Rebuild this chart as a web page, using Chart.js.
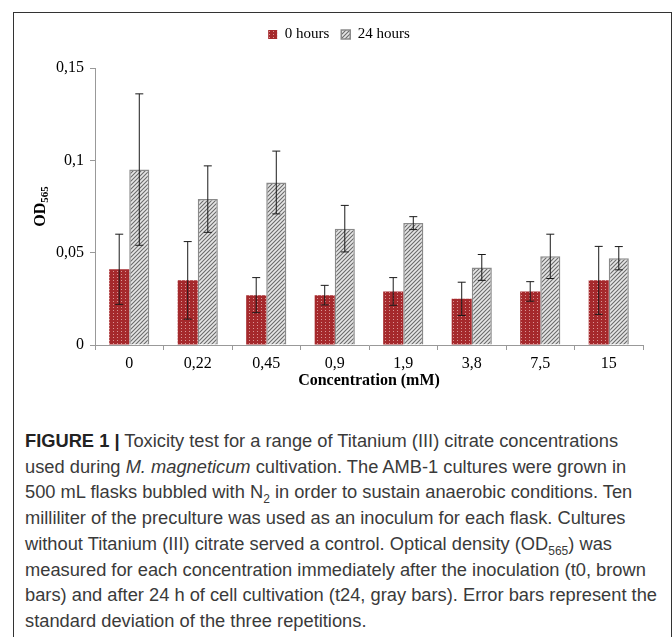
<!DOCTYPE html>
<html>
<head>
<meta charset="utf-8">
<script src="https://cdn.jsdelivr.net/npm/chart.js@4.4.0/dist/chart.umd.min.js"></script>
<style>
  body { margin: 0; background: #fff; }
  #frame { position: absolute; left: 13px; top: 12px; width: 659px; height: 640px;
           border: 1.5px solid #333; border-bottom: none; box-sizing: border-box; }
  #wrap { position: absolute; left: 0; top: 0; width: 672px; height: 400px; }
  #caption { position: absolute; left: 25px; top: 428px; color: #3a3a3a;
             font-family: "Liberation Sans", Arial, sans-serif;
             font-size: 18.3px; line-height: 25.7px; white-space: nowrap; }
  #caption b { color: #222; }
  #caption sub { font-size: 12px; line-height: 0; }
</style>
</head>
<body>
<div id="frame"></div>
<div id="wrap"><canvas id="chart" width="672" height="400"></canvas></div>
<div id="caption">
  <div><b>FIGURE 1 |</b> Toxicity test for a range of Titanium (III) citrate concentrations</div>
  <div>used during <i>M. magneticum</i> cultivation. The AMB-1 cultures were grown in</div>
  <div>500 mL flasks bubbled with N<sub>2</sub> in order to sustain anaerobic conditions. Ten</div>
  <div>milliliter of the preculture was used as an inoculum for each flask. Cultures</div>
  <div>without Titanium (III) citrate served a control. Optical density (OD<sub>565</sub>) was</div>
  <div>measured for each concentration immediately after the inoculation (t0, brown</div>
  <div>bars) and after 24 h of cell cultivation (t24, gray bars). Error bars represent the</div>
  <div>standard deviation of the three repetitions.</div>
</div>
<script>
// concentrations (mM)
const concentrations = ['0', '0,22', '0,45', '0,9', '1,9', '3,8', '7,5', '15'];
// OD565 means
const od0h  = [0.041, 0.035, 0.027, 0.027, 0.029, 0.025, 0.029, 0.035];
const od24h = [0.095, 0.079, 0.088, 0.063, 0.066, 0.042, 0.048, 0.047];
// standard deviations
const sd0h  = [0.019, 0.021, 0.0095, 0.0053, 0.0075, 0.009, 0.0053, 0.0184];
const sd24h = [0.041, 0.018, 0.017, 0.0126, 0.0035, 0.007, 0.012, 0.0063];
const yTicks = [0, 0.05, 0.1, 0.15];

const serif = "'Liberation Serif', 'Times New Roman', serif";

const dotPattern = () => {
    const c = document.createElement('canvas');
    c.width = 4; c.height = 3;
    const g = c.getContext('2d');
    g.fillStyle = '#a5292c';
    g.fillRect(0, 0, 4, 3);
    g.fillStyle = '#d99595';
    g.fillRect(1, 1, 1, 1);
    return g.createPattern(c, 'repeat');
}

const hatchPattern = () => {
    const c = document.createElement('canvas');
    c.width = 4; c.height = 4;
    const g = c.getContext('2d');
    g.fillStyle = '#e6e6e6';
    g.fillRect(0, 0, 4, 4);
    g.strokeStyle = '#6a6a6a';
    g.lineWidth = 1.1;
    g.beginPath();
    g.moveTo(-1, 5); g.lineTo(5, -1);
    g.moveTo(-1, 1); g.lineTo(1, -1);
    g.moveTo(3, 5); g.lineTo(5, 3);
    g.stroke();
    return g.createPattern(c, 'repeat');
}

// draws the SD whiskers on top of the bars
const errorBars = {
    id: 'errorBars',
    afterDatasetsDraw(chart) {
        const ctx = chart.ctx;
        const y = chart.scales.y;
        [sd0h, sd24h].forEach((sd, di) => {
            const meta = chart.getDatasetMeta(di);
            meta.data.forEach((bar, i) => {
                const v = chart.data.datasets[di].data[i];
                const top = y.getPixelForValue(v + sd[i]);
                const bot = y.getPixelForValue(v - sd[i]);
                ctx.save();
                ctx.strokeStyle = '#1a1a1a';
                ctx.lineWidth = 1;
                ctx.beginPath();
                ctx.moveTo(bar.x, top); ctx.lineTo(bar.x, bot);
                ctx.moveTo(bar.x - 4, top); ctx.lineTo(bar.x + 4, top);
                ctx.moveTo(bar.x - 4, bot); ctx.lineTo(bar.x + 4, bot);
                ctx.stroke();
                ctx.restore();
            });
        });
    }
};

// y title with a real subscript
const yTitle = {
    id: 'yTitle',
    afterDraw(chart) {
        const ctx = chart.ctx;
        const area = chart.chartArea;
        ctx.save();
        ctx.translate(41, (area.top + area.bottom) / 2);
        ctx.rotate(-Math.PI / 2);
        ctx.fillStyle = '#000';
        ctx.textBaseline = 'middle';
        ctx.font = 'bold 16px ' + serif;
        const w1 = ctx.measureText('OD').width;
        ctx.font = 'bold 11px ' + serif;
        const w2 = ctx.measureText('565').width;
        const x0 = -(w1 + w2) / 2;
        ctx.font = 'bold 16px ' + serif;
        ctx.fillText('OD', x0, 0);
        ctx.font = 'bold 11px ' + serif;
        ctx.fillText('565', x0 + w1, 4);
        ctx.restore();
    }
};

const chart = new Chart(document.getElementById('chart').getContext('2d'), {
    type: 'bar',
    data: {
        labels: concentrations,
        datasets: [
            { label: '0 hours', data: od0h, backgroundColor: dotPattern(), borderWidth: 0 },
            { label: '24 hours', data: od24h, backgroundColor: hatchPattern(), borderColor: '#8a8a8a', borderWidth: 1.5 }
        ]
    },
    options: {
        responsive: false,
        animation: false,
        layout: { padding: { left: 35, right: 29, top: 15, bottom: 0 } },
        datasets: { bar: { categoryPercentage: 0.586, barPercentage: 1 } },
        plugins: {
            legend: {
                labels: {
                    font: { family: serif, size: 15 },
                    color: '#000',
                    boxWidth: 9,
                    boxHeight: 9,
                    padding: 12
                }
            },
            // empty spacer between legend and plot
            title: {
                display: true,
                text: ' ',
                weight: 100,
                font: { size: 10, lineHeight: 1 },
                padding: { top: 3, bottom: 3 }
            },
            tooltip: { enabled: false }
        },
        scales: {
            x: {
                afterFit: (s) => { s.height = 55; },
                grid: { drawOnChartArea: false, tickLength: 5, color: '#999' },
                border: { color: '#999' },
                ticks: { font: { family: serif, size: 16 }, color: '#000', padding: 4 },
                title: {
                    display: true,
                    text: 'Concentration (mM)',
                    font: { family: serif, size: 16, weight: 'bold' },
                    color: '#000',
                    padding: { top: 4, bottom: 10 }
                }
            },
            y: {
                min: 0,
                max: 0.15,
                afterFit: (s) => { s.width = 60; },
                afterBuildTicks: (s) => { s.ticks = yTicks.map(v => ({ value: v })); },
                grid: { drawOnChartArea: false, tickLength: 5, color: '#999' },
                border: { color: '#999' },
                ticks: {
                    font: { family: serif, size: 16 },
                    color: '#000',
                    padding: 6,
                    callback: (v) => String(Math.round(v * 100) / 100).replace('.', ',')
                }
            }
        }
    },
    plugins: [errorBars, yTitle]
});
</script>
</body>
</html>
